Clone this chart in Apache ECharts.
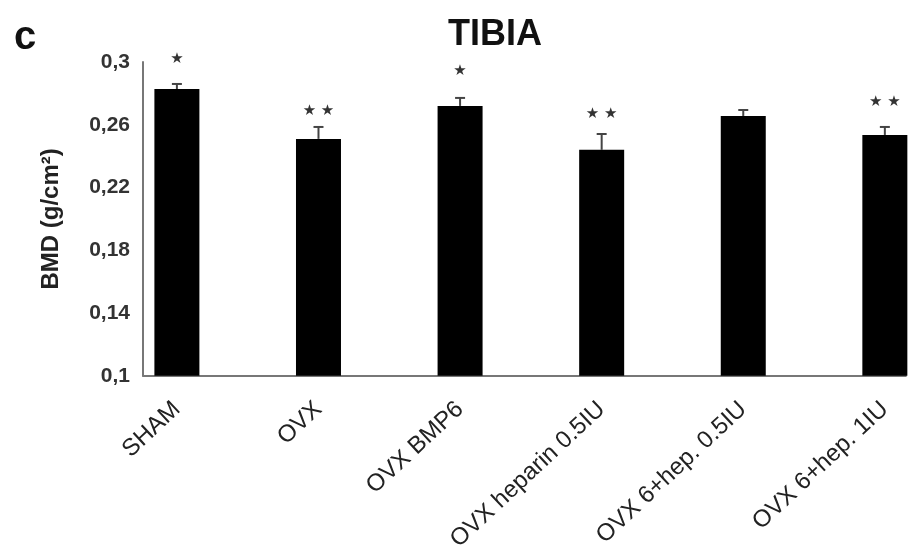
<!DOCTYPE html>
<html><head><meta charset="utf-8">
<script src="https://cdn.jsdelivr.net/npm/echarts@6/dist/echarts.min.js"></script>
<style>html,body{margin:0;padding:0;background:#fff}#c{width:908px;height:554px}</style>
</head><body><div id="c"></div>
<script>
const categories = ['SHAM', 'OVX', 'OVX BMP6', 'OVX heparin 0.5IU', 'OVX 6+hep. 0.5IU', 'OVX 6+hep. 1IU'];
const bmdMean = [0.2828, 0.2510, 0.2720, 0.2440, 0.2656, 0.2535];
const bmdError = [0.0032, 0.0076, 0.0051, 0.0101, 0.0038, 0.0051];
const significance = ['*', '**', '*', '**', '', '**'];
const significanceLevel = [0.3020, 0.2688, 0.2943, 0.2669, null, 0.2745];
const yTicks = [0.1, 0.14, 0.18, 0.22, 0.26, 0.3];

const FONT = '"Liberation Sans", Arial, sans-serif';
const chart = echarts.init(document.getElementById('c'), null, {renderer: 'canvas'});
chart.setOption({
  animation: false,
  backgroundColor: '#fff',
  title: [
    {text: 'TIBIA', left: 490, top: 12, textAlign: 'center',
     textStyle: {fontFamily: FONT, fontSize: 36, fontWeight: 'bold', color: '#111'}},
    {text: 'c', left: 9, top: 13,
     textStyle: {fontFamily: FONT, fontSize: 40, fontWeight: 'bold', color: '#111'}}
  ],
  grid: {left: 143, right: 0, top: 62, bottom: 177, containLabel: false},
  xAxis: {
    type: 'value', min: -0.2394, max: 5.148, minInterval: 1, maxInterval: 1,
    axisLine: {show: true, onZero: false, lineStyle: {color: '#777', width: 2}},
    axisTick: {show: false}, splitLine: {show: false},
    axisLabel: {
      rotate: 43, margin: 30, fontFamily: FONT, fontSize: 24, color: '#222',
      formatter: v => (Number.isInteger(v) && categories[v]) ? categories[v] : ''
    }
  },
  yAxis: {
    type: 'value', min: yTicks[0], max: yTicks[yTicks.length - 1], interval: 0.04,
    name: 'BMD (g/cm²)', nameLocation: 'middle', nameRotate: 90, nameGap: 80,
    nameTextStyle: {fontFamily: FONT, fontSize: 24, fontWeight: 'bold', color: '#222'},
    axisLine: {show: true, onZero: false, lineStyle: {color: '#777', width: 2}},
    axisTick: {show: false}, splitLine: {show: false},
    axisLabel: {margin: 13, fontFamily: FONT, fontSize: 21, fontWeight: 'bold', color: '#333',
      formatter: v => String(Number(v.toFixed(2))).replace('.', ',')}
  },
  series: [
    {type: 'bar', barWidth: 45, itemStyle: {color: '#000'},
     data: bmdMean.map((v, i) => [i, v])},
    {type: 'custom', z: 5,
     data: bmdMean.map((v, i) => [i, v, bmdError[i]]),
     renderItem: (params, api) => {
       const x = api.value(0), v = api.value(1), e = api.value(2);
       const p0 = api.coord([x, v]), p1 = api.coord([x, v + e]);
       const st = {stroke: '#444', lineWidth: 2};
       return {type: 'group', children: [
         {type: 'line', shape: {x1: p0[0], y1: p0[1], x2: p1[0], y2: p1[1]}, style: st},
         {type: 'line', shape: {x1: p1[0] - 5, y1: p1[1], x2: p1[0] + 5, y2: p1[1]}, style: st}
       ]};
     }},
    {type: 'scatter', z: 6, symbolSize: 0, silent: true, clip: false,
     data: significanceLevel.map((v, i) => [i, v]),
     label: {show: true, position: 'inside', color: '#000', fontSize: 15,
       fontFamily: '"DejaVu Sans", sans-serif',
       formatter: p => significance[p.dataIndex].split('').map(() => '★').join(' ')}}
  ]
});
</script></body></html>
